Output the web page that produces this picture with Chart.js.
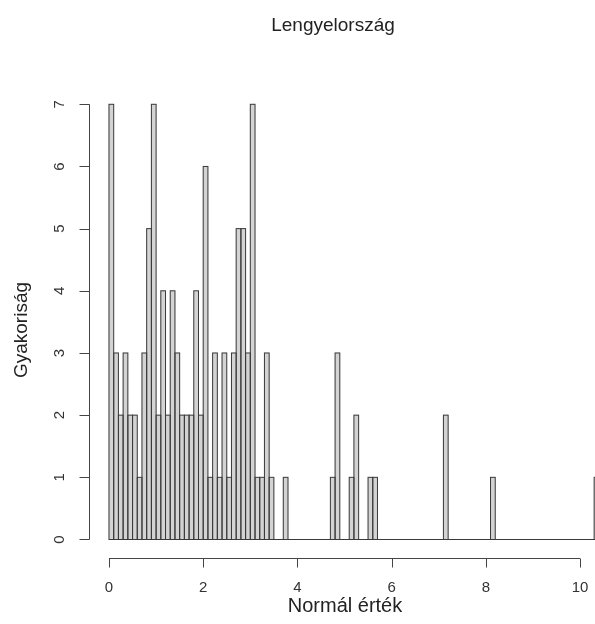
<!DOCTYPE html>
<html>
<head>
<meta charset="utf-8">
<script src="https://cdn.jsdelivr.net/npm/chart.js@4"></script>
<style>
  html, body { margin: 0; padding: 0; background: #fff; }
</style>
</head>
<body>
<canvas id="histChart" width="595" height="624"></canvas>
<script>
// histogram bins (left edge) that have at least one observation, and their counts
const binStart = [
  0.0, 0.1, 0.2, 0.3, 0.4, 0.5, 0.6, 0.7, 0.8, 0.9,
  1.0, 1.1, 1.2, 1.3, 1.4, 1.5, 1.6, 1.7, 1.8, 1.9,
  2.0, 2.1, 2.2, 2.3, 2.4, 2.5, 2.6, 2.7, 2.8, 2.9,
  3.0, 3.1, 3.2, 3.3, 3.4, 3.7, 4.7, 4.8, 5.1, 5.2,
  5.5, 5.6, 7.1, 8.1, 10.3
];
const counts = [
  7, 3, 2, 3, 2, 2, 1, 3, 5, 7,
  2, 4, 2, 4, 3, 2, 2, 2, 4, 2,
  6, 1, 3, 1, 3, 1, 3, 5, 5, 3,
  7, 1, 1, 3, 1, 1, 1, 3, 1, 2,
  1, 1, 2, 1, 1
];
const binWidth = 0.1;
const xTicks = [0, 2, 4, 6, 8, 10];
const yTicks = [0, 1, 2, 3, 4, 5, 6, 7];

const chartTitle = "Lengyelország";
const xTitle = "Normál érték";
const yTitle = "Gyakoriság";

const FONT = "'Liberation Sans', Arial, sans-serif";
Chart.defaults.font.family = FONT;

const bins = binStart.map((b, i) => ({ x: b + binWidth / 2, y: counts[i] }));

// R-style axes: lines only span the tick range, drawn off the plot region
const rAxes = {
  id: "rAxes",
  afterDatasetsDraw(chart) {
    const ctx = chart.ctx;
    const xs = chart.scales.x, ys = chart.scales.y;
    ctx.save();
    ctx.strokeStyle = "#3a3a3a";
    ctx.lineWidth = 1;
    // outline each bar
    chart.getDatasetMeta(0).data.forEach(bar => {
      const p = bar.getProps(["x", "y", "base", "width"], true);
      ctx.strokeRect(p.x - p.width / 2, p.y, p.width, p.base - p.y);
    });
    // empty bins show as a flat line at zero
    const y0 = Math.round(ys.getPixelForValue(0)) + 0.5;
    ctx.beginPath();
    ctx.moveTo(xs.getPixelForValue(0), y0);
    ctx.lineTo(xs.getPixelForValue(binStart[binStart.length - 1] + binWidth), y0);
    ctx.stroke();
    ctx.restore();
  },
  afterDraw(chart) {
    const ctx = chart.ctx;
    const xs = chart.scales.x, ys = chart.scales.y;
    const area = chart.chartArea;
    ctx.save();
    ctx.strokeStyle = "#444";
    ctx.fillStyle = "#333";
    ctx.lineWidth = 1;

    // x axis
    const ax = area.bottom + 0.5;
    ctx.beginPath();
    ctx.moveTo(xs.getPixelForValue(xTicks[0]), ax);
    ctx.lineTo(xs.getPixelForValue(xTicks[xTicks.length - 1]), ax);
    xTicks.forEach(t => {
      const px = Math.round(xs.getPixelForValue(t)) + 0.5;
      ctx.moveTo(px, ax);
      ctx.lineTo(px, ax + 9);
    });
    ctx.stroke();
    ctx.font = "15px " + FONT;
    ctx.textAlign = "center";
    ctx.textBaseline = "middle";
    xTicks.forEach(t => ctx.fillText(String(t), xs.getPixelForValue(t), 588));

    // y axis
    const ay = area.left + 0.5;
    ctx.beginPath();
    ctx.moveTo(ay, ys.getPixelForValue(yTicks[0]));
    ctx.lineTo(ay, ys.getPixelForValue(yTicks[yTicks.length - 1]));
    yTicks.forEach(t => {
      const py = Math.round(ys.getPixelForValue(t)) + 0.5;
      ctx.moveTo(ay, py);
      ctx.lineTo(ay - 10, py);
    });
    ctx.stroke();
    yTicks.forEach(t => {
      ctx.save();
      ctx.translate(60, ys.getPixelForValue(t));
      ctx.rotate(-Math.PI / 2);
      ctx.fillText(String(t), 0, 0);
      ctx.restore();
    });

    // titles
    ctx.fillStyle = "#222";
    ctx.font = "19px " + FONT;
    ctx.fillText(chartTitle, 333, 26);
    ctx.font = "20px " + FONT;
    ctx.fillText(xTitle, 345, 606);
    ctx.font = "19px " + FONT;
    ctx.save();
    ctx.translate(22, 330);
    ctx.rotate(-Math.PI / 2);
    ctx.fillText(yTitle, 0, 0);
    ctx.restore();
    ctx.restore();
  }
};

new Chart(document.getElementById("histChart"), {
  type: "bar",
  data: {
    datasets: [{
      label: yTitle,
      data: bins,
      backgroundColor: "#d3d3d3",
      borderWidth: 0,
      barPercentage: 1,
      categoryPercentage: 1
    }]
  },
  options: {
    responsive: false,
    animation: false,
    devicePixelRatio: 1,
    layout: { padding: { left: 89, right: 0, top: 40, bottom: 66 } },
    plugins: {
      legend: { display: false },
      tooltip: { enabled: false },
      title: { display: false }
    },
    scales: {
      x: {
        type: "linear",
        display: false,
        offset: false,
        min: -0.4246,
        max: 10.318,
        afterBuildTicks: s => { s.ticks = xTicks.map(v => ({ value: v })); }
      },
      y: {
        display: false,
        min: -0.2976,
        max: 8.034,
        afterBuildTicks: s => { s.ticks = yTicks.map(v => ({ value: v })); }
      }
    }
  },
  plugins: [rAxes]
});
</script>
</body>
</html>
